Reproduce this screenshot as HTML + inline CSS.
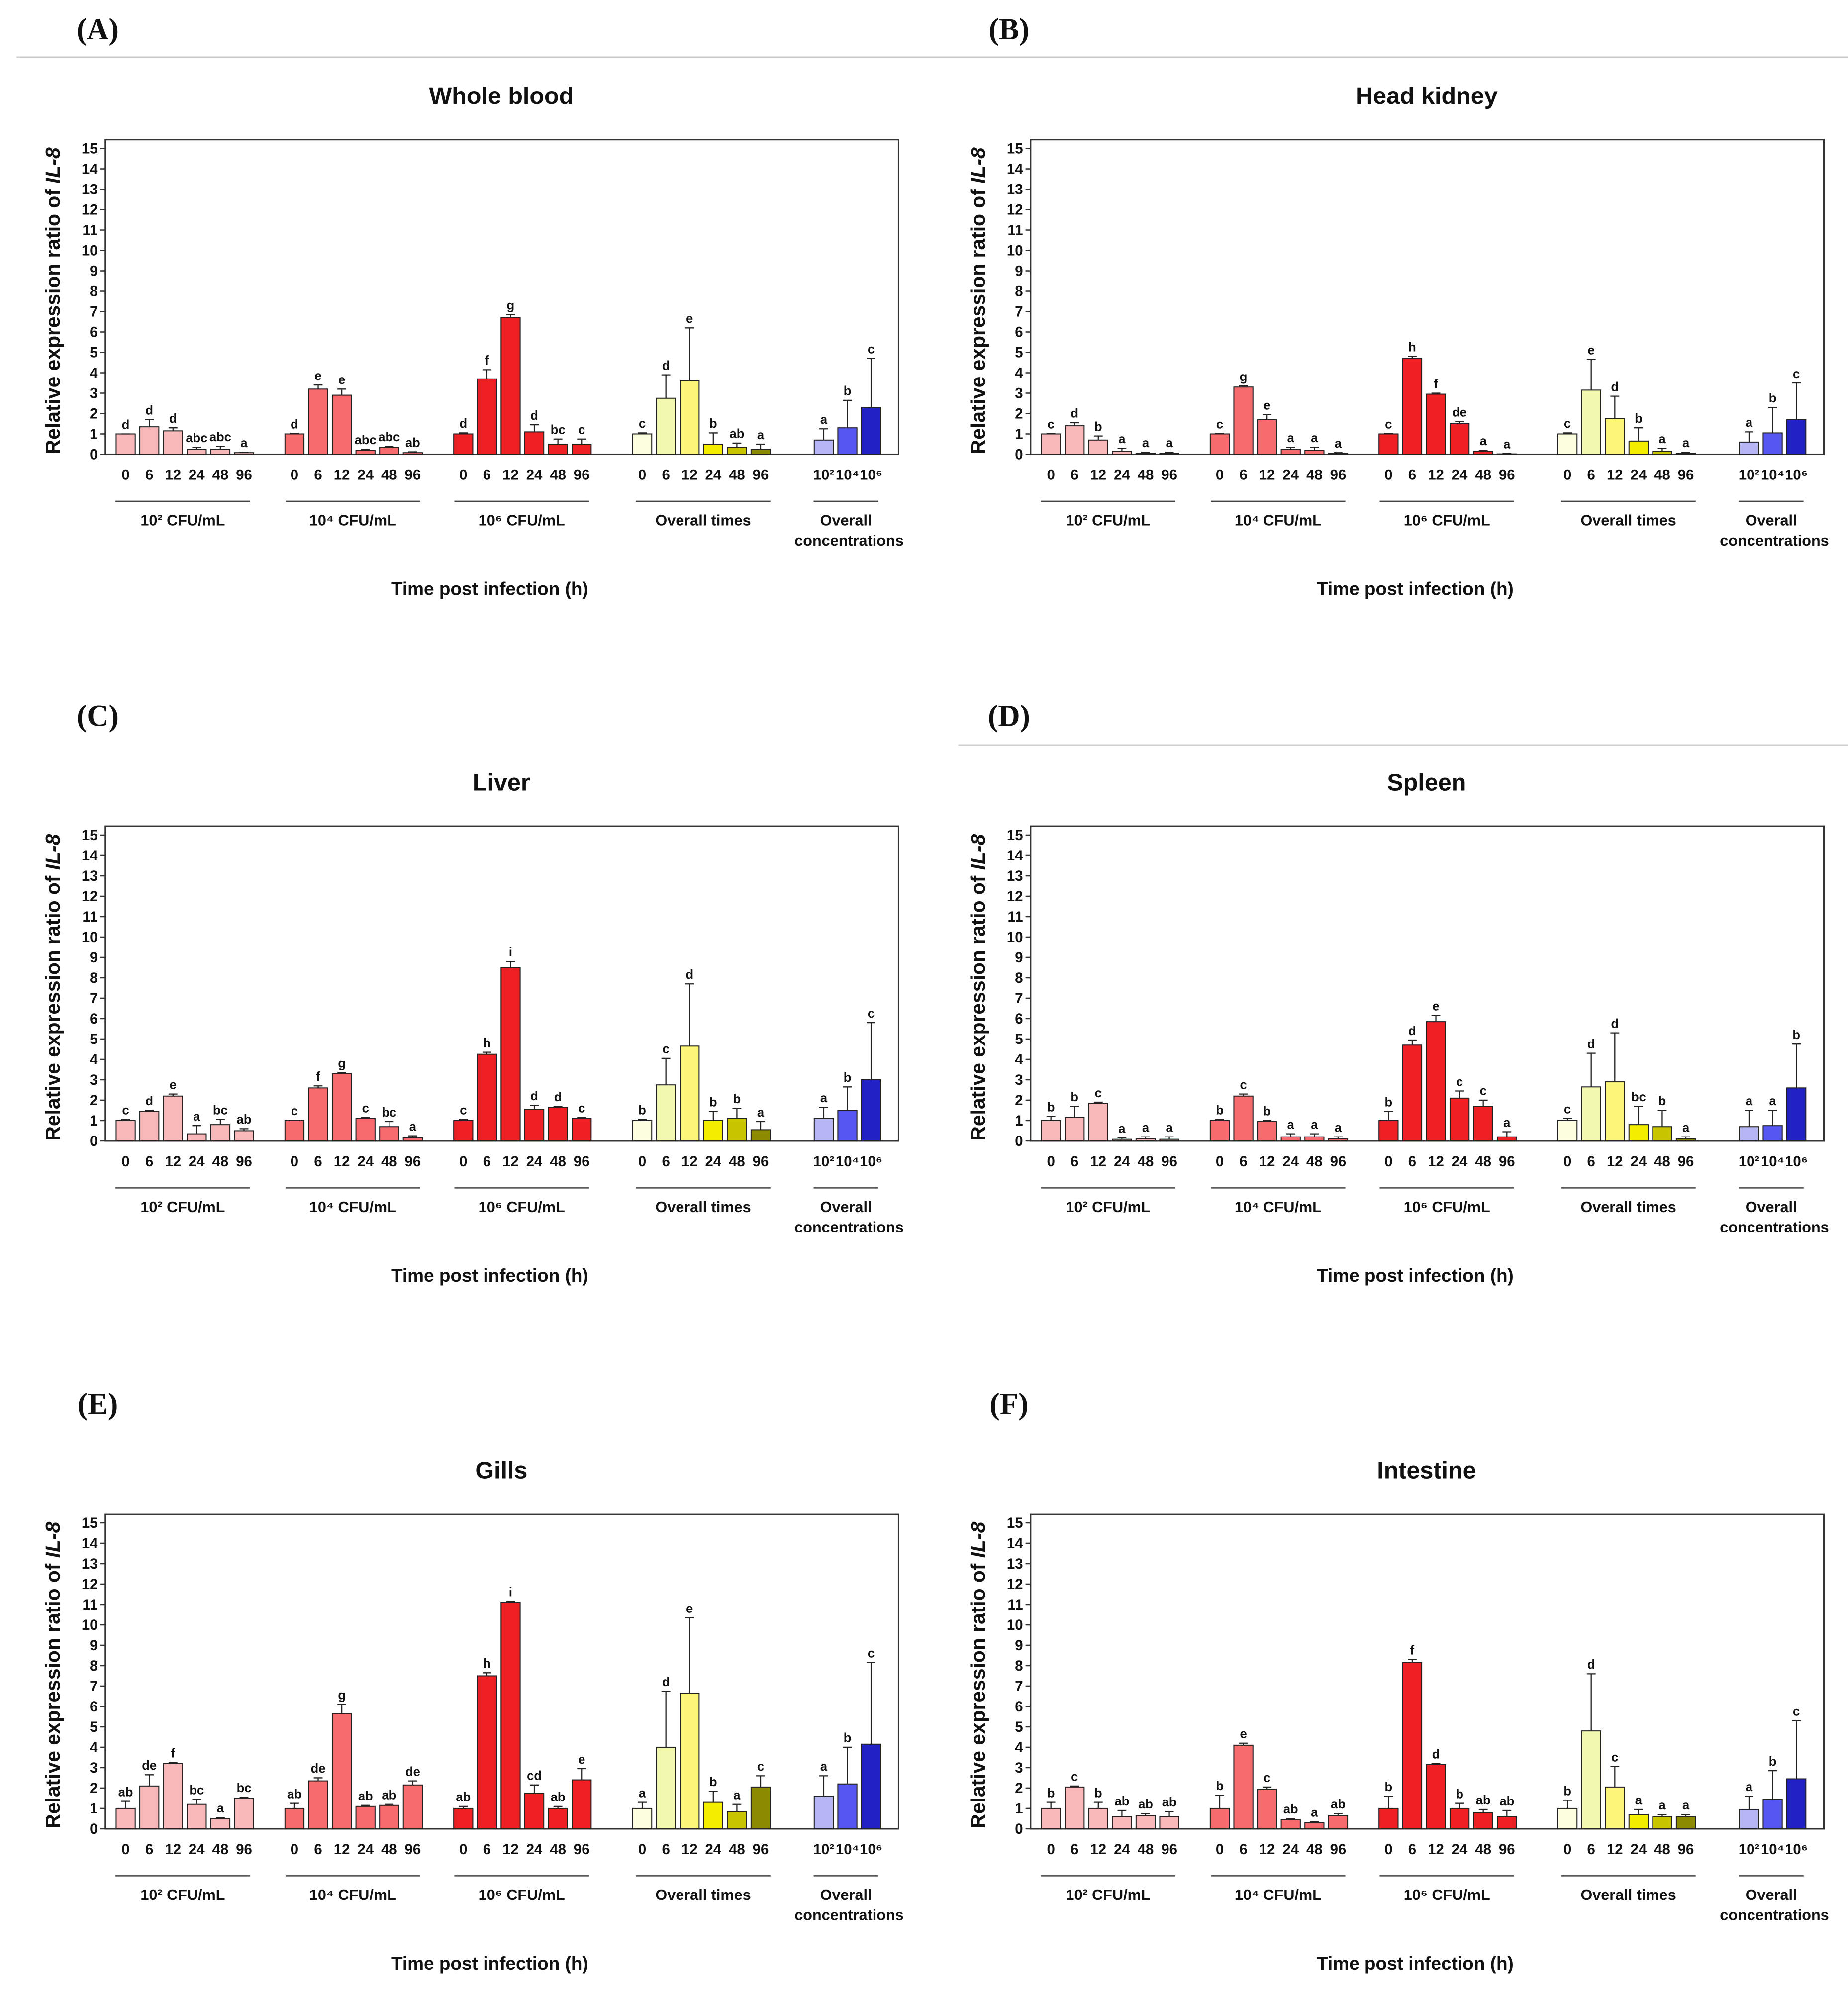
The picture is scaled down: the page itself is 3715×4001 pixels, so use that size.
<!DOCTYPE html>
<html><head><meta charset="utf-8"><style>
html,body{margin:0;padding:0;background:#fff;}
svg{display:block;font-family:"Liberation Sans",Arial,sans-serif;}
</style></head><body>
<svg id="fig" width="3715" height="4001" viewBox="0 0 1456 1568" preserveAspectRatio="none" xmlns="http://www.w3.org/2000/svg">
<rect width="1456" height="1568" fill="#fff"/>
<line x1="13" y1="45" x2="1456" y2="45" stroke="#ccc" stroke-width="1"/>
<line x1="755" y1="587" x2="1456" y2="587" stroke="#ccc" stroke-width="1"/>
</svg>
<script>
const panelTitles=["Whole blood","Head kidney","Liver","Spleen","Gills","Intestine"];
const panelLetters=["(A)","(B)","(C)","(D)","(E)","(F)"];
const timeLabels=["0","6","12","24","48","96"];
const concLabels=["10²","10⁴","10⁶"];
const yTicks=[0,1,2,3,4,5,6,7,8,9,10,11,12,13,14,15];
const valA=[1.0,1.35,1.15,0.25,0.25,0.08, 1.0,3.2,2.9,0.2,0.35,0.08, 1.0,3.7,6.7,1.1,0.5,0.5, 1.0,2.75,3.6,0.5,0.35,0.25, 0.7,1.3,2.3];
const errA=[1.0,1.7,1.3,0.35,0.4,0.1, 1.02,3.4,3.2,0.25,0.4,0.12, 1.05,4.15,6.85,1.45,0.75,0.75, 1.05,3.9,6.2,1.05,0.55,0.5, 1.25,2.65,4.7];
const letA=["d","d","d","abc","abc","a","d","e","e","abc","abc","ab","d","f","g","d","bc","c","c","d","e","b","ab","a","a","b","c"];
const valB=[1.0,1.4,0.7,0.15,0.05,0.05, 1.0,3.3,1.7,0.25,0.2,0.05, 1.0,4.7,2.95,1.5,0.15,0.02, 1.0,3.15,1.75,0.65,0.15,0.05, 0.6,1.05,1.7];
const errB=[1.02,1.55,0.9,0.3,0.1,0.1, 1.02,3.35,1.95,0.35,0.35,0.08, 1.02,4.8,3.0,1.6,0.2,0.04, 1.05,4.65,2.85,1.3,0.3,0.1, 1.1,2.3,3.5];
const letB=["c","d","b","a","a","a","c","g","e","a","a","a","c","h","f","de","a","a","c","e","d","b","a","a","a","b","c"];
const valC=[1.0,1.45,2.2,0.35,0.8,0.5, 1.0,2.6,3.3,1.1,0.7,0.15, 1.0,4.25,8.5,1.55,1.65,1.1, 1.0,2.75,4.65,1.0,1.1,0.55, 1.1,1.5,3.0];
const errC=[1.05,1.5,2.3,0.75,1.05,0.6, 1.02,2.7,3.35,1.15,0.95,0.25, 1.05,4.35,8.8,1.75,1.7,1.15, 1.05,4.05,7.7,1.45,1.6,0.95, 1.65,2.65,5.8];
const letC=["c","d","e","a","bc","ab","c","f","g","c","bc","a","c","h","i","d","d","c","b","c","d","b","b","a","a","b","c"];
const valD=[1.0,1.15,1.85,0.08,0.1,0.08, 1.0,2.2,0.95,0.2,0.2,0.1, 1.0,4.7,5.85,2.1,1.7,0.2, 1.0,2.65,2.9,0.8,0.7,0.1, 0.7,0.75,2.6];
const errD=[1.2,1.7,1.9,0.15,0.2,0.2, 1.05,2.3,1.0,0.35,0.35,0.2, 1.45,4.95,6.15,2.45,2.0,0.45, 1.1,4.3,5.3,1.7,1.5,0.2, 1.5,1.5,4.75];
const letD=["b","b","c","a","a","a","b","c","b","a","a","a","b","d","e","c","c","a","c","d","d","bc","b","a","a","a","b"];
const valE=[1.0,2.1,3.2,1.2,0.5,1.5, 1.0,2.35,5.65,1.1,1.15,2.15, 1.0,7.5,11.1,1.75,1.0,2.4, 1.0,4.0,6.65,1.3,0.85,2.05, 1.6,2.2,4.15];
const errE=[1.35,2.65,3.25,1.45,0.55,1.55, 1.25,2.5,6.1,1.15,1.2,2.35, 1.1,7.65,11.15,2.15,1.1,2.95, 1.3,6.75,10.35,1.85,1.2,2.6, 2.6,4.0,8.15];
const letE=["ab","de","f","bc","a","bc","ab","de","g","ab","ab","de","ab","h","i","cd","ab","e","a","d","e","b","a","c","a","b","c"];
const valF=[1.0,2.05,1.0,0.6,0.65,0.6, 1.0,4.1,1.95,0.45,0.3,0.65, 1.0,8.15,3.15,1.0,0.8,0.6, 1.0,4.8,2.05,0.7,0.6,0.6, 0.95,1.45,2.45];
const errF=[1.3,2.1,1.3,0.9,0.75,0.85, 1.65,4.2,2.05,0.5,0.35,0.75, 1.6,8.3,3.2,1.25,0.95,0.9, 1.4,7.6,3.05,0.95,0.7,0.7, 1.6,2.85,5.3];
const letF=["b","c","b","ab","ab","ab","b","e","c","ab","a","ab","b","f","d","b","ab","ab","b","d","c","a","a","a","a","b","c"];
const allVals=[valA,valB,valC,valD,valE,valF];
const allErrs=[errA,errB,errC,errD,errE,errF];
const allLets=[letA,letB,letC,letD,letE,letF];

const NS="http://www.w3.org/2000/svg";
const svg=document.getElementById('fig');
const colors=["#f9b9bb","#f9b9bb","#f9b9bb","#f9b9bb","#f9b9bb","#f9b9bb",
 "#f76a6d","#f76a6d","#f76a6d","#f76a6d","#f76a6d","#f76a6d",
 "#ee2024","#ee2024","#ee2024","#ee2024","#ee2024","#ee2024",
 "#fdfde0","#f3f8b0","#fbf67a","#f3ee00","#c9c400","#8c8a00",
 "#b6b6f4","#5656f2","#2121c6"];
const groupStart=[99,232,365,506,649];
const step=18.65;
function mk(tag,attrs,parent){const e=document.createElementNS(NS,tag);for(const k in attrs)e.setAttribute(k,attrs[k]);(parent||svg).appendChild(e);return e;}
function txt(s,x,y,size,opts,parent){const t=mk('text',Object.assign({x:x,y:y,'font-size':size,'font-weight':'bold','text-anchor':'middle',fill:'#111'},opts||{}),parent);t.textContent=s;return t;}

for(let p=0;p<6;p++){
  const dx=(p%2)*729, dy=[0,0,541,541,1083,1083][p];
  const g=mk('g',{transform:`translate(${dx},${dy})`});
  
  
  const pl=txt(panelLetters[p],p%2?66:77,31,24,{'font-family':'"Liberation Serif",serif'},g);
  
  const tt=txt(panelTitles[p],395,82,19,{},g);
  
  const y0=358, unit=(358-117)/15;
  const Y=v=>y0-v*unit;
  const fr=mk('rect',{x:83,y:110,width:625,height:248,fill:'none',stroke:'#333','stroke-width':1.2},g);
  
  yTicks.forEach(v=>{
    mk('line',{x1:79,x2:83,y1:Y(v),y2:Y(v),stroke:'#333','stroke-width':1},g);
    const t=txt(String(v),77,Y(v)+4,11.5,{'text-anchor':'end'},g);
    
  });
  const yl=mk('text',{x:0,y:0,'font-size':16,'font-weight':'bold','text-anchor':'middle',fill:'#111',transform:'translate(47,237) rotate(-90)'},g);
  yl.innerHTML='Relative expression ratio of <tspan font-style="italic">IL-8</tspan>';
  
  const vals=allVals[p],errs=allErrs[p],lets=allLets[p];
  for(let i=0;i<27;i++){
    const gi=Math.floor(i/6)<4?Math.floor(i/6):4;
    const k=gi<4?i%6:i-24;
    const cx=groupStart[gi]+k*step;
    const b=mk('rect',{x:cx-7.5,y:Y(vals[i]),width:15,height:vals[i]*unit,fill:colors[i],stroke:'#222','stroke-width':0.8},g);
    
    mk('line',{x1:cx,x2:cx,y1:Y(vals[i]),y2:Y(errs[i]),stroke:'#222','stroke-width':0.9},g);
    mk('line',{x1:cx-3.5,x2:cx+3.5,y1:Y(errs[i]),y2:Y(errs[i]),stroke:'#222','stroke-width':0.9},g);
    const lt=txt(lets[i],cx,Y(errs[i])-4,10,{},g);
    
    const xl=txt(gi<4?timeLabels[k]:concLabels[k],cx,378,11.5,{},g);
    
  }
  const spans=[[91,197,"10² CFU/mL"],[225,331,"10⁴ CFU/mL"],[358,464,"10⁶ CFU/mL"],[501,607,"Overall times"],[641,692,"Overall"]];
  spans.forEach(s=>{
    mk('line',{x1:s[0],x2:s[1],y1:395,y2:395,stroke:'#444','stroke-width':1},g);
    const t=txt(s[2],(s[0]+s[1])/2,414,12,{},g);
    
  });
  const c2=txt('concentrations',669,430,12,{},g);
  
  const xt=txt('Time post infection (h)',386,469,14.5,{},g);
  
}
</script>
</body></html>
